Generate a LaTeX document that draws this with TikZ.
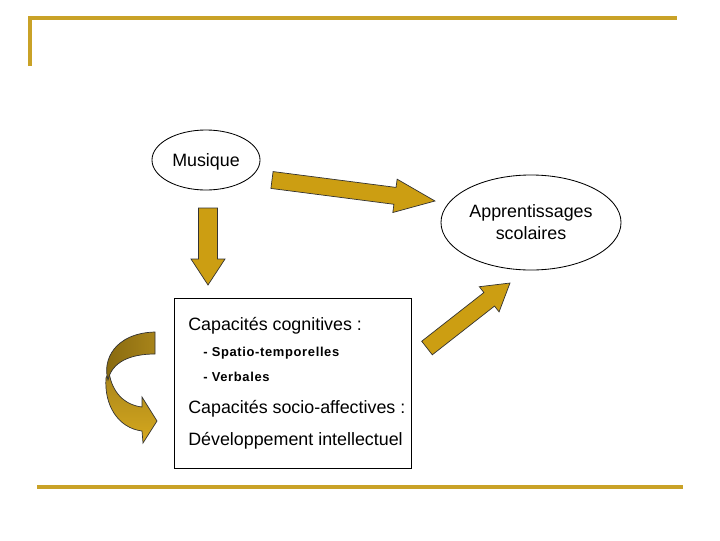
\documentclass[tikz,border=0pt]{standalone}
\usepackage{fontspec}
\setmainfont{Liberation Sans}
\usetikzlibrary{positioning,calc,shapes.geometric}
\definecolor{Ochre}{HTML}{CC9E12}
\definecolor{OchreLight}{HTML}{D6A91E}
\definecolor{OchreDark}{HTML}{86680E}
\definecolor{OchreMid}{HTML}{A8841A}
\definecolor{Rule}{HTML}{C9A227}

\begin{document}
\begin{tikzpicture}[
  x=0.025cm,y=-0.025cm,
  rulebar/.style={draw=Rule,line width=2.2pt},
  bubble/.style={
    draw,
    ellipse,
    line width=0.6pt,
    inner sep=0pt,
    align=center,
    font=\fontsize{12.7}{15.6}\selectfont
  },
  panel/.style={draw,line width=0.6pt,inner sep=0pt,minimum width=5.925cm,minimum height=4.25cm},
  item/.style={anchor=base west,inner sep=0pt,font=\fontsize{12.7}{15}\selectfont},
  subitem/.style={anchor=base west,inner sep=0pt,font=\fontsize{9.2}{11}\selectfont\bfseries\addfontfeatures{LetterSpace=5}},
  blockarrow/.style={fill=Ochre,draw=black!80,line width=0.5pt,line join=miter}
]
\useasboundingbox (0,0) rectangle (720,540);

% frame rules
\draw[rulebar] (30,66) -- (30,18) -- (677,18);
\draw[rulebar] (37,487) -- (683,487);

\node[bubble,text depth=0pt,minimum width=2.7cm,minimum height=1.5cm] (musique) at (206,160) {Musique};
\node[bubble,minimum width=4.5cm,minimum height=2.375cm] (appr) at (531,222.5) {Apprentissages\\scolaires};
\node[panel] (capacites) at (292.5,383) {};

\node[item] (cogn) at (188,330.5) {Capacités cognitives :};
\node[subitem] (spatio) at (203,356) {- Spatio-temporelles};
\node[subitem] (verb) at (203,381.5) {- Verbales};
\node[item] (socio) at (188,413) {Capacités socio-affectives :};
\node[item] (dev) at (188,445) {Développement intellectuel};

% block arrows
\coordinate (m-out) at (272,180);
\coordinate (m-down) at (208,208);
\coordinate (c-out) at (427,348);

\begin{scope}[shift={(m-out)},rotate=-7.34]
  \draw[blockarrow] (0,-8.5) -- (124,-8.5) -- (124,-16.8) -- (164.3,0)
    -- (124,16.8) -- (124,8.5) -- (0,8.5) -- cycle;
\end{scope}
\begin{scope}[shift={(m-down)},rotate=-90]
  \draw[blockarrow] (0,-9.5) -- (51,-9.5) -- (51,-17) -- (77,0)
    -- (51,17) -- (51,9.5) -- (0,9.5) -- cycle;
\end{scope}
\begin{scope}[shift={(c-out)},rotate=38.06]
  \draw[blockarrow] (0,-8.6) -- (79,-8.6) -- (79,-16) -- (105.4,0)
    -- (79,16) -- (79,8.6) -- (0,8.6) -- cycle;
\end{scope}

% curved arrow beside the panel
\draw[draw=black!80,line width=0.5pt,top color=OchreMid,bottom color=OchreLight]
  (109,372) .. controls (112,393) and (125,405) .. (142,407) -- (142,397) -- (157,421)
  -- (143,443) -- (142,431) .. controls (118,428) and (104,405) .. (106,378) -- cycle;
\draw[draw=black!80,line width=0.5pt,left color=OchreDark,right color=OchreMid]
  (155,332) -- (155,354) .. controls (130,354) and (112,362) .. (108,380)
  .. controls (102,360) and (115,333) .. (155,332) -- cycle;
\end{tikzpicture}
\end{document}
